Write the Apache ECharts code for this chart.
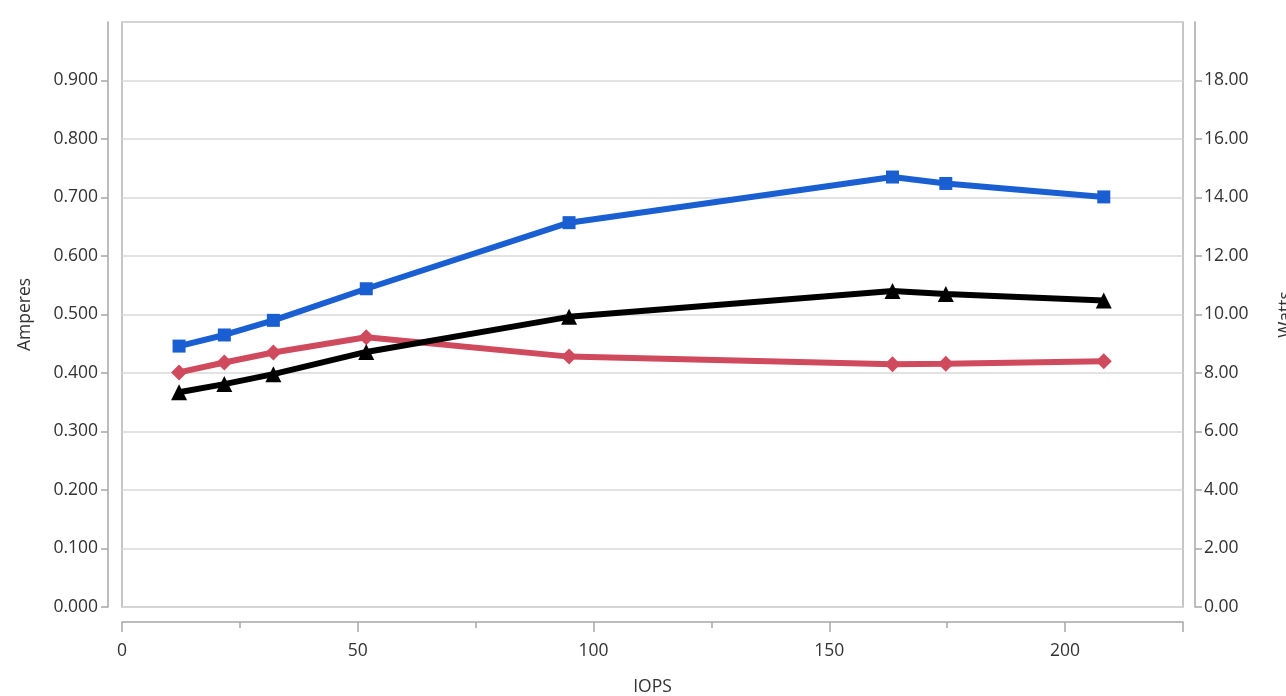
<!DOCTYPE html>
<html>
<head>
<meta charset="utf-8">
<script src="https://cdn.jsdelivr.net/npm/echarts@6/dist/echarts.min.js"></script>
<style>html,body{margin:0;padding:0;background:#fff}#c{width:1286px;height:696px}</style>
</head>
<body>
<div id="c"></div>
<script>
var iops = [12.1, 21.7, 32.1, 51.8, 94.8, 163.4, 174.7, 208.2];
var ampsBlue = [0.446, 0.465, 0.490, 0.544, 0.657, 0.735, 0.724, 0.701];
var ampsRed = [0.401, 0.418, 0.435, 0.461, 0.428, 0.415, 0.416, 0.420];
var watts = [7.34, 7.62, 7.96, 8.72, 9.92, 10.80, 10.70, 10.48];

function pairs(xs, ys) { return xs.map(function (x, i) { return [x, ys[i]]; }); }

var axisGray = '#a6a6a6';
var FONT = 'Open Sans, Noto Sans, sans-serif';
var FS = 17.5;

var chart = echarts.init(document.getElementById('c'));
chart.setOption({
  backgroundColor: '#fff',
  animation: false,
  grid: { left: 122, right: 103, top: 22, bottom: 89, containLabel: false, outerBoundsMode: 'none',
          show: true, borderColor: '#b4b4b4', borderWidth: 1.5 },
  xAxis: {
    type: 'value', min: 0, max: 225, interval: 50, offset: 15,
    name: 'IOPS', nameLocation: 'middle', nameGap: 56,
    nameTextStyle: { color: '#333', fontSize: FS, fontFamily: FONT },
    axisLine: { show: true, onZero: false, lineStyle: { color: axisGray, width: 1.5 } },
    axisTick: { show: true, length: 10, lineStyle: { color: axisGray, width: 1.5 } },
    minorTick: { show: true, splitNumber: 2, length: 6, lineStyle: { color: axisGray, width: 1.5 } },
    axisLabel: { margin: 20, showMaxLabel: false, color: '#333', fontSize: FS, fontFamily: FONT },
    splitLine: { show: false }
  },
  yAxis: [{
    type: 'value', min: 0, max: 1, interval: 0.1, position: 'left', offset: 14,
    name: 'Amperes', nameLocation: 'middle', nameGap: 74, nameRotate: 90,
    nameTextStyle: { color: '#333', fontSize: FS, fontFamily: FONT },
    axisLine: { show: true, onZero: false, lineStyle: { color: axisGray, width: 1.5 } },
    axisTick: { show: true, length: 7, lineStyle: { color: axisGray, width: 1.5 } },
    axisLabel: { margin: 10, showMaxLabel: false, color: '#333', fontSize: FS, fontFamily: FONT,
                 formatter: function (v) { return v.toFixed(3); } },
    splitLine: { show: true, lineStyle: { color: '#d9d9d9', width: 1.5 } }
  }, {
    type: 'value', min: 0, max: 20, interval: 2, position: 'right', offset: 12,
    name: 'Watts', nameLocation: 'middle', nameGap: 82, nameRotate: 90,
    nameTextStyle: { color: '#333', fontSize: FS, fontFamily: FONT },
    axisLine: { show: true, onZero: false, lineStyle: { color: axisGray, width: 1.5 } },
    axisTick: { show: true, length: 7, lineStyle: { color: axisGray, width: 1.5 } },
    axisLabel: { margin: 9, showMaxLabel: false, color: '#333', fontSize: FS, fontFamily: FONT,
                 formatter: function (v) { return v.toFixed(2); } },
    splitLine: { show: false }
  }],
  series: [{
    name: 'Amps (12V)', type: 'line', yAxisIndex: 0, data: pairs(iops, ampsBlue),
    symbol: 'rect', symbolSize: 13,
    lineStyle: { color: '#1a5fd2', width: 6 }, itemStyle: { color: '#1a5fd2' }
  }, {
    name: 'Amps (5V)', type: 'line', yAxisIndex: 0, data: pairs(iops, ampsRed),
    symbol: 'diamond', symbolSize: 16,
    lineStyle: { color: '#d04a5d', width: 6 }, itemStyle: { color: '#d04a5d' }
  }, {
    name: 'Watts', type: 'line', yAxisIndex: 1, data: pairs(iops, watts),
    symbol: 'triangle', symbolSize: 16,
    lineStyle: { color: '#000', width: 6 }, itemStyle: { color: '#000' }
  }]
});
</script>
</body>
</html>
